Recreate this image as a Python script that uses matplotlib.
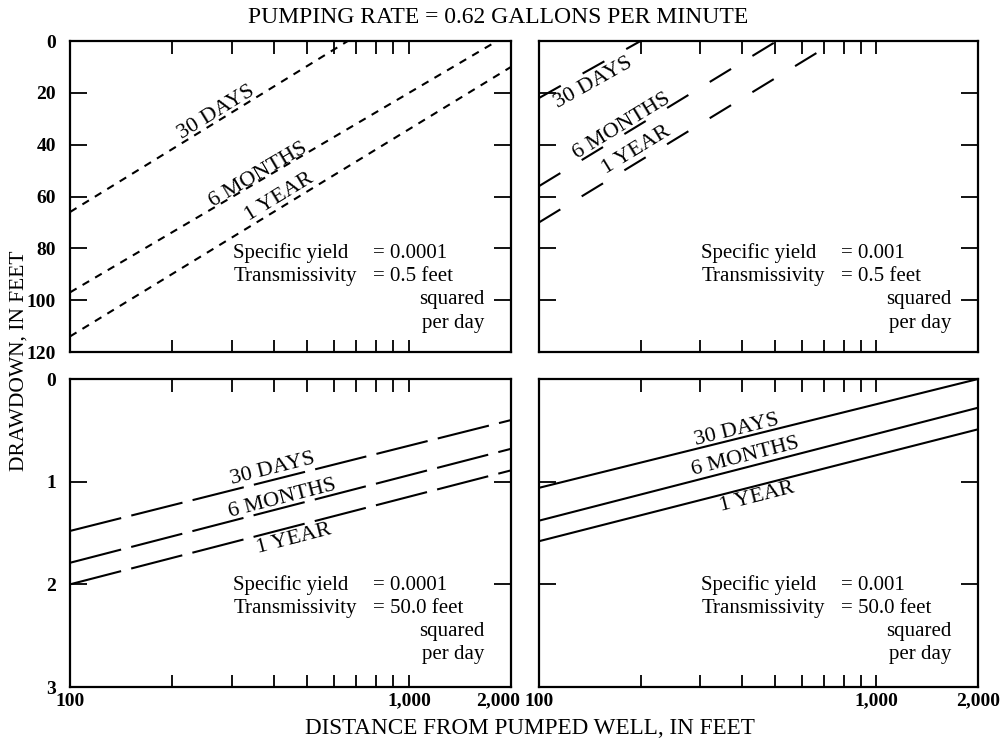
import numpy as np
import matplotlib
matplotlib.use("Agg")
import matplotlib.pyplot as plt
from matplotlib.ticker import FixedLocator, NullFormatter
from matplotlib.transforms import ScaledTranslation

plt.rcParams['font.family'] = ['Liberation Serif', 'DejaVu Serif']
plt.rcParams['lines.scale_dashes'] = False

# drawdown curves, each given by two points (distance ft, drawdown ft)
periods = ['30 DAYS', '6 MONTHS', '1 YEAR']

# Sy = 0.0001, T = 0.5
tl_dist = [[100, 660], [100, 1820], [100, 2000]]
tl_draw = [[66, 0], [97, 0], [114, 10]]
# Sy = 0.001, T = 0.5
tr_dist = [[100, 200], [100, 507], [100, 760]]
tr_draw = [[22, 0], [56, 0], [70, 0]]
# Sy = 0.0001, T = 50.0
bl_dist = [[100, 2000], [100, 2000], [100, 2000]]
bl_draw = [[1.48, 0.40], [1.79, 0.68], [2.0, 0.89]]
# Sy = 0.001, T = 50.0
br_dist = [[100, 2000], [100, 2000], [100, 2000]]
br_draw = [[1.06, 0.0], [1.38, 0.28], [1.58, 0.49]]

sy_values = ['0.0001', '0.001', '0.0001', '0.001']
t_values = ['0.5', '0.5', '50.0', '50.0']

# label anchor points (distance, drawdown) for the period names
tl_lab = [(270, 27.7), (360, 51.7), (415, 60.2)]
tr_lab = [(145, 16.3), (176, 33.0), (194, 42.3)]
bl_lab = [(396, 0.876), (423, 1.168), (458, 1.558)]
br_lab = [(387, 0.497), (408, 0.757), (442, 1.152)]

xtick_vals = [100, 1000, 2000]
xtick_text = ['100', '1,000', '2,000']
minor_x = [200, 300, 400, 500, 600, 700, 800, 900]

fig = plt.figure(figsize=(10.04, 7.5), dpi=100)

W = 1004.0
H = 750.0
boxes = [
    (70, 41, 441, 311),
    (539, 41, 439, 311),
    (70, 379, 441, 308),
    (539, 379, 439, 308),
]
panels = [
    (tl_dist, tl_draw, tl_lab, (0, 120), [0, 20, 40, 60, 80, 100, 120], (5.5, 5.0)),
    (tr_dist, tr_draw, tr_lab, (0, 120), [0, 20, 40, 60, 80, 100, 120], (18, 18)),
    (bl_dist, bl_draw, bl_lab, (0, 3), [0, 1, 2, 3], (38, 7.5)),
    (br_dist, br_draw, br_lab, (0, 3), [0, 1, 2, 3], None),
]

for i, (box, pan) in enumerate(zip(boxes, panels)):
    px, py, pw, ph = box
    ax = fig.add_axes([px / W, 1 - (py + ph) / H, pw / W, ph / H])
    dists, draws, labs, ylim, yt, dash = pan
    ax.set_xscale('log')
    ax.set_xlim(100, 2000)
    ax.set_ylim(ylim[1], ylim[0])

    for s in ax.spines.values():
        s.set_linewidth(1.6)

    ax.xaxis.set_major_locator(FixedLocator(xtick_vals))
    ax.xaxis.set_minor_locator(FixedLocator(minor_x))
    ax.xaxis.set_minor_formatter(NullFormatter())
    if i >= 2:
        ax.set_xticklabels(xtick_text)
    else:
        ax.set_xticklabels([])
    ax.set_yticks(yt)
    if i % 2 == 0:
        ax.set_yticklabels([str(v) for v in yt])
    else:
        ax.set_yticklabels([])
    ax.tick_params(axis='x', which='both', direction='in', top=True, bottom=True,
                   length=9, width=1.3, labelsize=14, pad=4)
    ax.tick_params(axis='y', direction='in', left=True, right=True,
                   length=12, width=1.3, labelsize=14, pad=10)
    for lab in ax.get_xticklabels() + ax.get_yticklabels():
        lab.set_fontweight('bold')
    if i == 2:
        # keep "2,000" clear of the next panel's "100"
        last = ax.get_xticklabels()[-1]
        last.set_transform(last.get_transform() +
                           ScaledTranslation(-0.13, 0, fig.dpi_scale_trans))

    for d, s in zip(dists, draws):
        if dash is None:
            ax.plot(d, s, color='black', lw=1.5, solid_capstyle='butt')
        else:
            ax.plot(d, s, color='black', lw=1.5, dashes=dash, dash_capstyle='butt')

    # period names laid along each curve
    for name, d, s, (lx, ly) in zip(periods, dists, draws, labs):
        p1 = ax.transData.transform((d[0], s[0]))
        p2 = ax.transData.transform((d[1], s[1]))
        ang = np.degrees(np.arctan2(p2[1] - p1[1], p2[0] - p1[0]))
        ax.text(lx, ly, name, rotation=ang, rotation_mode='anchor',
                ha='center', va='center', fontsize=16)

    # aquifer properties
    dy = -0.012 if i < 2 else 0.0
    ax.text(0.37, 0.33 + dy, 'Specific yield', transform=ax.transAxes,
            fontsize=15, ha='left', va='center')
    ax.text(0.688, 0.33 + dy, '= ' + sy_values[i], transform=ax.transAxes,
            fontsize=15, ha='left', va='center')
    ax.text(0.37, 0.255 + dy, 'Transmissivity', transform=ax.transAxes,
            fontsize=15, ha='left', va='center')
    ax.text(0.688, 0.255 + dy, '= ' + t_values[i] + ' feet', transform=ax.transAxes,
            fontsize=15, ha='left', va='center')
    ax.text(0.94, 0.18 + dy, 'squared', transform=ax.transAxes,
            fontsize=15, ha='right', va='center')
    ax.text(0.94, 0.105 + dy, 'per day', transform=ax.transAxes,
            fontsize=15, ha='right', va='center')

fig.text(0.496, 0.977, 'PUMPING RATE = 0.62 GALLONS PER MINUTE',
         ha='center', va='center', fontsize=17)
fig.text(0.528, 0.029, 'DISTANCE FROM PUMPED WELL, IN FEET',
         ha='center', va='center', fontsize=16.7)
fig.text(0.0185, 0.519, 'DRAWDOWN, IN FEET', rotation=90,
         ha='center', va='center', fontsize=15.5)

fig.savefig('out.png', dpi=100)
